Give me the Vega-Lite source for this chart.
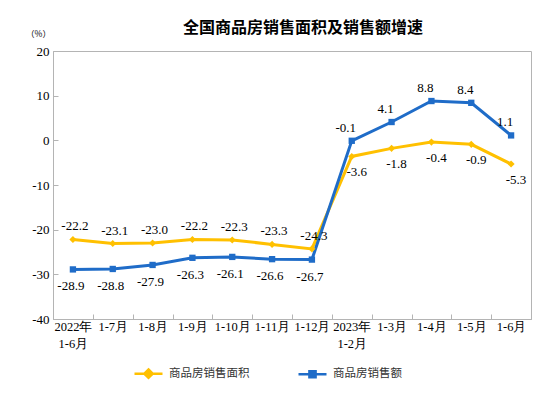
{
  "$schema": "https://vega.github.io/schema/vega-lite/v6.json",
  "width": 478,
  "height": 268,
  "autosize": {"type": "none"},
  "padding": {"left": 53, "top": 51, "right": 23, "bottom": 75},
  "background": "white",
  "config": {
    "view": {"stroke": "#b4b4b4", "strokeWidth": 1},
    "font": "'Liberation Serif', 'Times New Roman', serif",
    "locale": {"number": {"decimal": ".", "thousands": ",", "grouping": [3], "currency": ["", ""], "minus": "-"}}
  },
  "title": {
    "text": "全国商品房销售面积及销售额增速",
    "font": "Noto Sans CJK SC",
    "fontSize": 16,
    "fontWeight": "bold",
    "color": "#000000",
    "anchor": "middle",
    "dx": 11,
    "offset": -7
  },
  "data": {
    "values": [
      {"idx": 1, "period": "2022年|1-6月", "yr": 2022, "series": "商品房销售面积", "value": -22.2},
      {"idx": 2, "period": "1-7月", "yr": 2022, "series": "商品房销售面积", "value": -23.1},
      {"idx": 3, "period": "1-8月", "yr": 2022, "series": "商品房销售面积", "value": -23.0},
      {"idx": 4, "period": "1-9月", "yr": 2022, "series": "商品房销售面积", "value": -22.2},
      {"idx": 5, "period": "1-10月", "yr": 2022, "series": "商品房销售面积", "value": -22.3},
      {"idx": 6, "period": "1-11月", "yr": 2022, "series": "商品房销售面积", "value": -23.3},
      {"idx": 7, "period": "1-12月", "yr": 2022, "series": "商品房销售面积", "value": -24.3},
      {"idx": 8, "period": "2023年|1-2月", "yr": 2023, "series": "商品房销售面积", "value": -3.6},
      {"idx": 9, "period": "1-3月", "yr": 2023, "series": "商品房销售面积", "value": -1.8},
      {"idx": 10, "period": "1-4月", "yr": 2023, "series": "商品房销售面积", "value": -0.4},
      {"idx": 11, "period": "1-5月", "yr": 2023, "series": "商品房销售面积", "value": -0.9},
      {"idx": 12, "period": "1-6月", "yr": 2023, "series": "商品房销售面积", "value": -5.3},
      {"idx": 1, "period": "2022年|1-6月", "yr": 2022, "series": "商品房销售额", "value": -28.9},
      {"idx": 2, "period": "1-7月", "yr": 2022, "series": "商品房销售额", "value": -28.8},
      {"idx": 3, "period": "1-8月", "yr": 2022, "series": "商品房销售额", "value": -27.9},
      {"idx": 4, "period": "1-9月", "yr": 2022, "series": "商品房销售额", "value": -26.3},
      {"idx": 5, "period": "1-10月", "yr": 2022, "series": "商品房销售额", "value": -26.1},
      {"idx": 6, "period": "1-11月", "yr": 2022, "series": "商品房销售额", "value": -26.6},
      {"idx": 7, "period": "1-12月", "yr": 2022, "series": "商品房销售额", "value": -26.7},
      {"idx": 8, "period": "2023年|1-2月", "yr": 2023, "series": "商品房销售额", "value": -0.1},
      {"idx": 9, "period": "1-3月", "yr": 2023, "series": "商品房销售额", "value": 4.1},
      {"idx": 10, "period": "1-4月", "yr": 2023, "series": "商品房销售额", "value": 8.8},
      {"idx": 11, "period": "1-5月", "yr": 2023, "series": "商品房销售额", "value": 8.4},
      {"idx": 12, "period": "1-6月", "yr": 2023, "series": "商品房销售额", "value": 1.1}
    ]
  },
  "encoding": {
    "x": {
      "field": "period",
      "type": "nominal",
      "sort": null,
      "scale": {"type": "band", "paddingInner": 0, "paddingOuter": 0},
      "axis": {
        "title": null,
        "labelAngle": 0,
        "labelExpr": "split(datum.label, '|')",
        "labelFont": "'Liberation Serif', 'Times New Roman', serif",
        "labelFontSize": 12.5,
        "labelColor": "#000000",
        "labelPadding": 6,
        "labelLineHeight": 17,
        "labelBaseline": "top",
        "tickBand": "extent",
        "tickSize": -5,
        "tickColor": "#b4b4b4",
        "domainColor": "#b4b4b4",
        "grid": false
      }
    },
    "y": {
      "field": "value",
      "type": "quantitative",
      "scale": {"domain": [-40, 20], "nice": false, "zero": false},
      "axis": {
        "title": "（%）",
        "titleAngle": 0,
        "titleX": -15,
        "titleY": -18,
        "titleAlign": "center",
        "titleBaseline": "middle",
        "titleFont": "Noto Sans CJK SC",
        "titleFontSize": 8.5,
        "titleFontWeight": "normal",
        "titleColor": "#000000",
        "values": [-40, -30, -20, -10, 0, 10, 20],
        "labelFont": "'Liberation Serif', 'Times New Roman', serif",
        "labelFontSize": 13,
        "labelColor": "#000000",
        "labelPadding": 9,
        "tickSize": -5,
        "tickColor": "#b4b4b4",
        "domainColor": "#b4b4b4",
        "grid": false
      }
    },
    "color": {
      "field": "series",
      "type": "nominal",
      "scale": {"domain": ["商品房销售面积", "商品房销售额"], "range": ["#FFC000", "#1F6CC8"]},
      "legend": {
        "orient": "none",
        "legendX": 80,
        "legendY": 307,
        "direction": "horizontal",
        "title": null,
        "columnPadding": 43,
        "labelFont": "Noto Sans CJK SC",
        "labelFontSize": 11.5,
        "labelColor": "#333333",
        "labelOffset": 5,
        "symbolSize": 784,
        "symbolStrokeWidth": 2.5,
        "encode": {
          "symbols": {
            "update": {
              "shape": {"signal": "datum.value == '商品房销售面积' ? 'M-1,0H1M0,-0.3L0.3,0L0,0.3L-0.3,0Z' : 'M-1,0H1M-0.22,-0.22H0.22V0.22H-0.22Z'"},
              "fill": {"signal": "scale('color', datum.value)"},
              "stroke": {"signal": "scale('color', datum.value)"},
              "strokeWidth": {"value": 2.5},
              "opacity": {"value": 1}
            }
          }
        }
      }
    }
  },
  "layer": [
    {
      "mark": {"type": "line", "strokeWidth": 3},
      "encoding": {"order": {"field": "idx", "type": "quantitative"}}
    },
    {
      "transform": [{"filter": "datum.series == '商品房销售面积'"}],
      "mark": {"type": "point", "filled": true, "opacity": 1, "size": 50, "shape": "diamond"}
    },
    {
      "transform": [{"filter": "datum.series == '商品房销售额'"}],
      "mark": {"type": "point", "filled": true, "opacity": 1, "size": 40, "shape": "square"}
    },
    {
      "transform": [{"filter": "datum.series == '商品房销售面积' && datum.yr == 2022"}],
      "mark": {"type": "text", "font": "'Liberation Serif', 'Times New Roman', serif", "fontSize": 13, "dx": 2, "dy": -13},
      "encoding": {"text": {"field": "value", "type": "quantitative", "format": ".1f"}, "color": {"value": "#000000"}}
    },
    {
      "transform": [{"filter": "datum.series == '商品房销售额' && datum.yr == 2022"}],
      "mark": {"type": "text", "font": "'Liberation Serif', 'Times New Roman', serif", "fontSize": 13, "dx": -2, "dy": 17},
      "encoding": {"text": {"field": "value", "type": "quantitative", "format": ".1f"}, "color": {"value": "#000000"}}
    },
    {
      "transform": [{"filter": "datum.series == '商品房销售面积' && datum.yr == 2023"}],
      "mark": {"type": "text", "font": "'Liberation Serif', 'Times New Roman', serif", "fontSize": 13, "dx": 5, "dy": 16},
      "encoding": {"text": {"field": "value", "type": "quantitative", "format": ".1f"}, "color": {"value": "#000000"}}
    },
    {
      "transform": [{"filter": "datum.series == '商品房销售额' && datum.yr == 2023"}],
      "mark": {"type": "text", "font": "'Liberation Serif', 'Times New Roman', serif", "fontSize": 13, "dx": -6, "dy": -13},
      "encoding": {"text": {"field": "value", "type": "quantitative", "format": ".1f"}, "color": {"value": "#000000"}}
    }
  ]
}
